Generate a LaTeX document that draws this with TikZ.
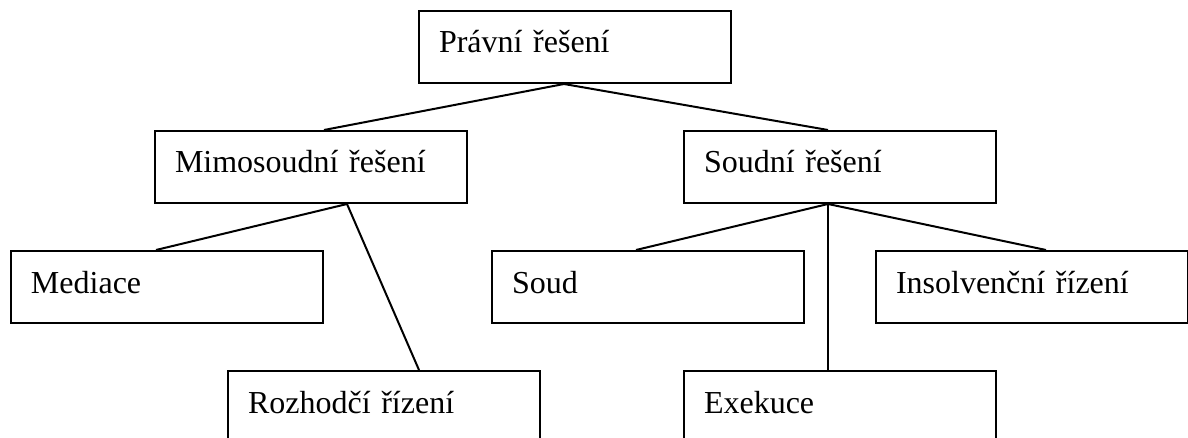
\documentclass[tikz,border=0pt]{standalone}
\usepackage{fontspec}
\setmainfont{Liberation Serif}
\usetikzlibrary{positioning}
\tikzstyle{edge} = [-, line width=1pt]
\tikzstyle{box} = [rectangle, draw=black, line width=1pt, anchor=north west,
                   minimum width=156pt, minimum height=36pt, text width=136pt,
                   inner xsep=10pt, align=left, text height=11pt, text depth=5pt,
                   font=\fontsize{16pt}{19pt}\selectfont]

\begin{document}
\begin{tikzpicture}[x=0.5pt, y=-0.5pt]
  \useasboundingbox (0,0) rectangle (1188,438);
  \clip (0,0) rectangle (1188,438);
  \node (prav) [box] at (418, 10) {Právní řešení};
  \node (mimo) [box] at (154, 130) {Mimosoudní řešení};
  \node (soudni) [box] at (683, 130) {Soudní řešení};
  \node (med) [box] at (10, 250) {Mediace};
  \node (soud) [box] at (491, 250) {Soud};
  \node (insol) [box] at (875, 250) {Insolvenční řízení};
  \node (rozh) [box] at (227, 370) {Rozhodčí řízení};
  \node (exek) [box] at (683, 370) {Exekuce};
  \path [edge] ([xshift=-5.5pt]prav.south) edge ([xshift=6.5pt]mimo.north);
  \path [edge] ([xshift=-5.5pt]prav.south) edge ([xshift=-6pt]soudni.north);
  \path [edge] ([xshift=18pt]mimo.south) edge ([xshift=-5.5pt]med.north);
  \path [edge] ([xshift=18pt]mimo.south) edge ([xshift=17.5pt]rozh.north);
  \path [edge] ([xshift=-6pt]soudni.south) edge ([xshift=-6pt]soud.north);
  \path [edge] ([xshift=-6pt]soudni.south) edge ([xshift=-6pt]exek.north);
  \path [edge] ([xshift=-6pt]soudni.south) edge ([xshift=7pt]insol.north);
\end{tikzpicture}
\end{document}
